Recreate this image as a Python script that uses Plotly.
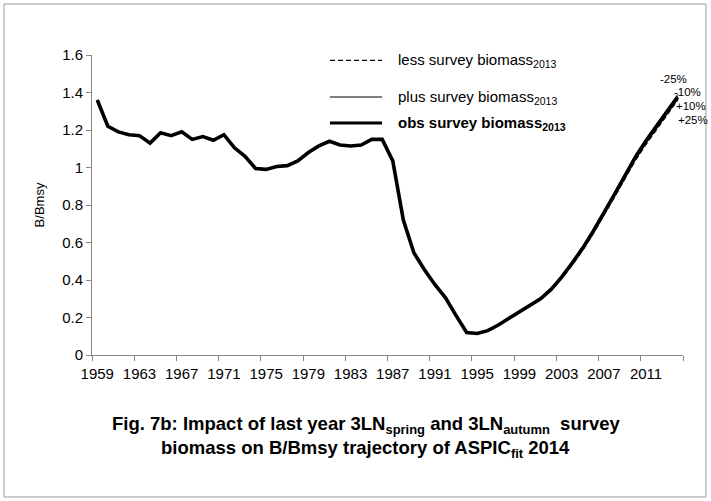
import plotly.graph_objects as go

years = list(range(1959, 2015))

obs = [1.36, 1.22, 1.19, 1.175, 1.17, 1.13, 1.185, 1.17, 1.19, 1.15,
       1.165, 1.145, 1.175, 1.105, 1.06, 0.995, 0.99, 1.005, 1.01, 1.035,
       1.08, 1.115, 1.14, 1.12, 1.115, 1.12, 1.15, 1.15, 1.035, 0.72,
       0.545, 0.455, 0.375, 0.305, 0.21, 0.12, 0.115, 0.13, 0.16, 0.195,
       0.23, 0.265, 0.30, 0.35, 0.415, 0.49, 0.57, 0.66, 0.755, 0.855,
       0.955, 1.055, 1.14, 1.22, 1.295, 1.375]

# scenario tails 1996-2014 (earlier years identical to obs)
less25_tail = [0.129, 0.158, 0.192, 0.226, 0.26, 0.294, 0.343, 0.407, 0.48, 0.559,
               0.648, 0.742, 0.841, 0.94, 1.039, 1.124, 1.203, 1.278, 1.36]
less10_tail = [0.13, 0.159, 0.194, 0.228, 0.262, 0.297, 0.346, 0.411, 0.485, 0.565,
               0.654, 0.749, 0.848, 0.948, 1.047, 1.132, 1.211, 1.286, 1.368]
plus10_tail = [0.13, 0.161, 0.196, 0.232, 0.268, 0.303, 0.354, 0.419, 0.495, 0.575,
               0.666, 0.761, 0.862, 0.962, 1.063, 1.148, 1.229, 1.304, 1.382]
plus25_tail = [0.131, 0.162, 0.198, 0.234, 0.27, 0.306, 0.357, 0.423, 0.499, 0.58,
               0.671, 0.767, 0.868, 0.969, 1.07, 1.156, 1.237, 1.313, 1.39]

head = obs[:37]  # 1959-1995
less25 = head + less25_tail
less10 = head + less10_tail
plus10 = head + plus10_tail
plus25 = head + plus25_tail

tick_years = list(range(1959, 2012, 4))
tick_labels = [str(y) for y in tick_years]
boundary_ticks = [y - 0.5 for y in range(1959, 2016, 4)]

end_labels = ["-25%", "-10%", "+10%", "+25%"]
end_label_y = [1.472, 1.405, 1.33, 1.255]
end_label_x = [2012.1, 2013.5, 2013.6, 2013.8]

FONT = "Liberation Sans, Arial, sans-serif"
DASH = "5px,3px"

fig = go.Figure()
for ser in (less25, less10):
    fig.add_trace(go.Scatter(x=years, y=ser, mode="lines",
                             line=dict(color="black", width=1.3, dash=DASH),
                             showlegend=False, hoverinfo="skip"))
for ser in (plus10, plus25):
    fig.add_trace(go.Scatter(x=years, y=ser, mode="lines",
                             line=dict(color="black", width=1),
                             showlegend=False, hoverinfo="skip"))
fig.add_trace(go.Scatter(x=years, y=obs, mode="lines",
                         line=dict(color="black", width=3.6),
                         showlegend=False))
# invisible trace to carry the boundary tick axis
fig.add_trace(go.Scatter(x=[None], y=[None], xaxis="x2", showlegend=False,
                         hoverinfo="skip"))

axis_grey = "#868686"
fig.update_layout(
    width=711, height=501,
    margin=dict(l=92, r=28, t=55, b=146),
    paper_bgcolor="white", plot_bgcolor="white",
    font=dict(family=FONT, size=13, color="black"),
    showlegend=False,
    xaxis=dict(range=[1958.5, 2014.5], tickvals=tick_years, ticktext=tick_labels,
               ticks="", showline=True, linecolor=axis_grey, linewidth=1,
               showgrid=False, zeroline=False, tickfont=dict(size=15),
               ticklabelstandoff=5),
    xaxis2=dict(range=[1958.5, 2014.5], overlaying="x", side="bottom",
                tickvals=boundary_ticks, ticks="outside", ticklen=5,
                tickcolor=axis_grey, showticklabels=False, showline=False,
                showgrid=False, zeroline=False),
    yaxis=dict(range=[0, 1.6], dtick=0.2, ticks="outside", ticklen=5,
               tickcolor=axis_grey, showline=True, linecolor=axis_grey,
               linewidth=1, showgrid=False, zeroline=False,
               tickfont=dict(size=15),
               title=dict(text="B/Bmsy", font=dict(size=13), standoff=14)),
)

# manual legend
legend_rows = [
    ("less survey biomass<sub>2013</sub>", 0.982, dict(color="black", width=1.3, dash=DASH)),
    ("plus survey biomass<sub>2013</sub>", 0.860, dict(color="black", width=1)),
    ("<b>obs survey biomass<sub>2013</sub></b>", 0.773, dict(color="black", width=3)),
]
for text, yy, ln in legend_rows:
    fig.add_shape(type="line", xref="paper", yref="paper",
                  x0=0.4027, x1=0.4907, y0=yy, y1=yy, line=ln)
    fig.add_annotation(xref="paper", yref="paper", x=0.514, y=yy, text=text,
                       showarrow=False, xanchor="left", yanchor="middle",
                       font=dict(size=15, family=FONT))

for t, xx, yy in zip(end_labels, end_label_x, end_label_y):
    fig.add_annotation(x=xx, y=yy, text=t, showarrow=False, xanchor="left",
                       yanchor="middle", font=dict(size=11.5, family=FONT))

caption_lines = [
    "<b>Fig. 7b: Impact of last year 3LN<sub>spring</sub> and 3LN<sub>autumn</sub>  survey</b>",
    "<b>biomass on B/Bmsy trajectory of ASPIC<sub>fit</sub> 2014</b>",
]
caption_y = [-0.232, -0.313]
caption_x = [0.4636, 0.4636]
for t, xx, yy in zip(caption_lines, caption_x, caption_y):
    fig.add_annotation(xref="paper", yref="paper", x=xx, y=yy, text=t,
                       showarrow=False, xanchor="center", yanchor="middle",
                       font=dict(size=18.5, family=FONT))

# outer frame
fig.add_shape(type="rect", xref="paper", yref="paper",
              x0=-0.1489, x1=1.0389, y0=-0.4733, y1=1.17,
              line=dict(color="#9a9a9a", width=1))

fig.write_html("out.html", config={"displayModeBar": False},
               post_script="document.body.style.margin='0px';")
